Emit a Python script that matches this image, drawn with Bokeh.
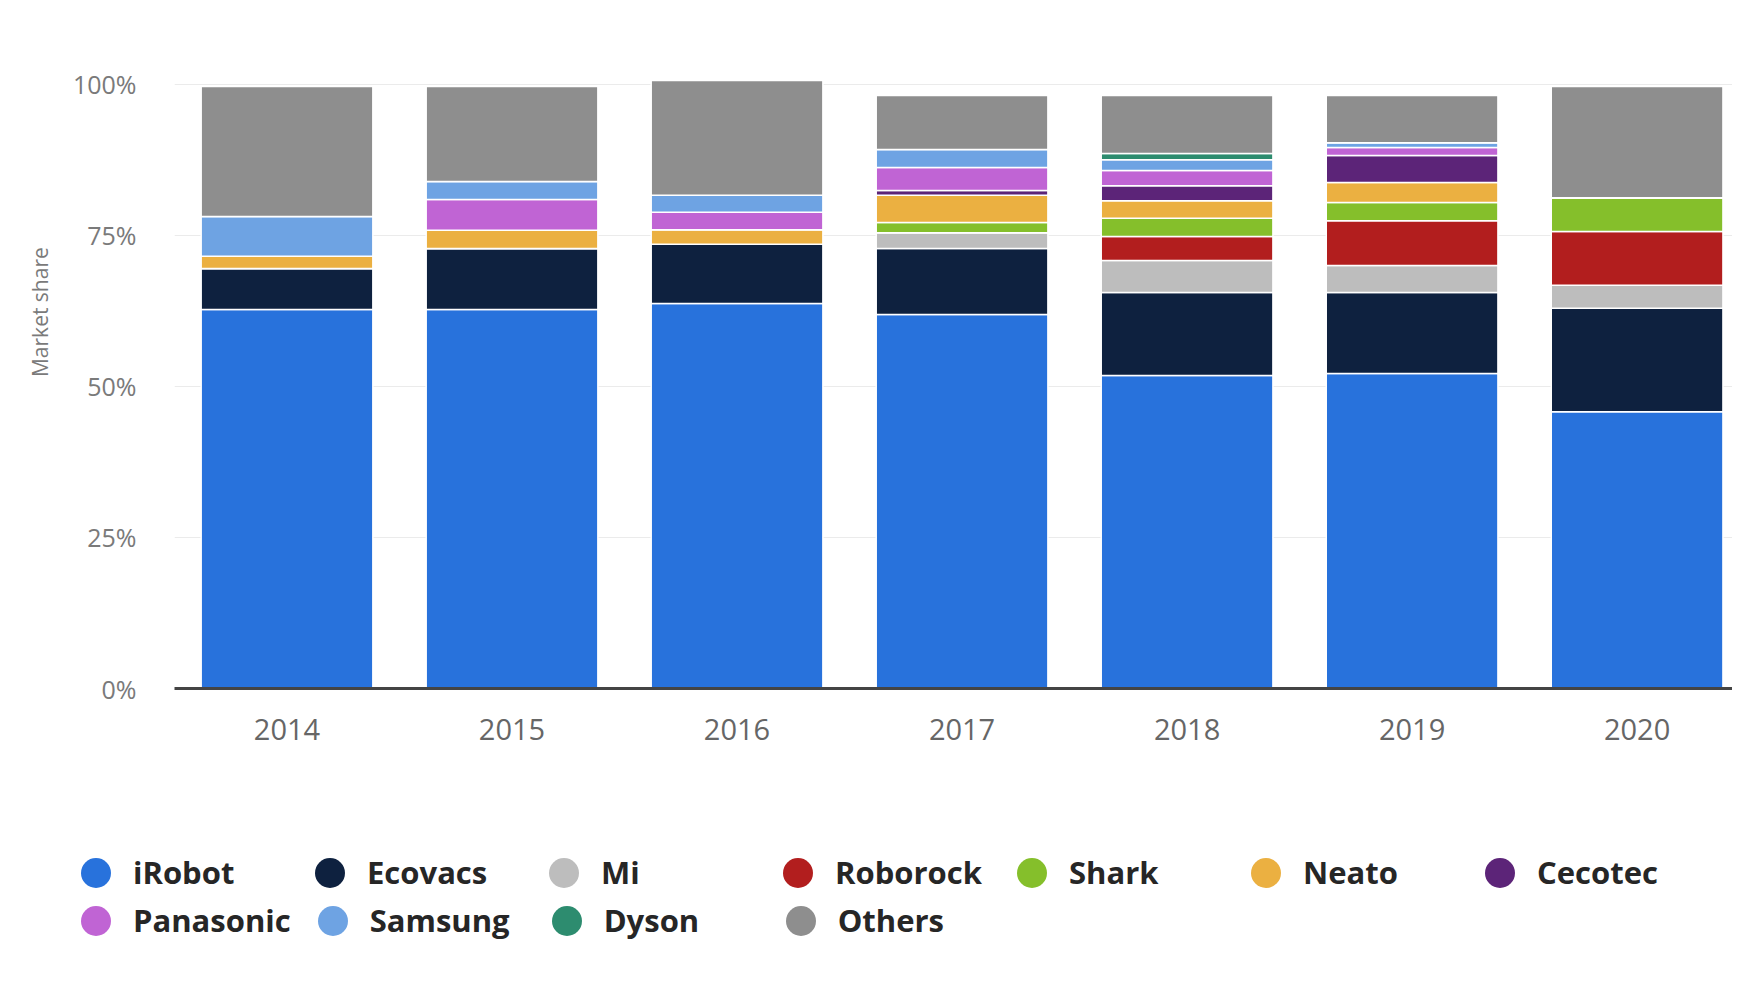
from bokeh.plotting import figure
from bokeh.models import ColumnDataSource, Range1d, FixedTicker, PrintfTickFormatter, Legend, LegendItem
from bokeh.embed import file_html
from bokeh.resources import INLINE

years = [2014, 2015, 2016, 2017, 2018, 2019, 2020]
year_labels = ["2014", "2015", "2016", "2017", "2018", "2019", "2020"]

brands = ["iRobot", "Ecovacs", "Mi", "Roborock", "Shark", "Neato", "Cecotec",
          "Panasonic", "Samsung", "Dyson", "Others"]
colors = ["#2872DC", "#0E213F", "#BDBDBD", "#B21E1E", "#85BF2B", "#EBB041", "#5C2478",
          "#C064D4", "#6EA3E3", "#2D8C6F", "#8E8E8E"]

irobot = [62.7, 62.7, 63.7, 61.9, 51.8, 52.1, 45.8]
ecovacs = [6.8, 10.1, 9.8, 10.9, 13.7, 13.4, 17.1]
mi = [0, 0, 0, 2.6, 5.3, 4.5, 3.8]
roborock = [0, 0, 0, 0, 4.0, 7.4, 8.9]
shark = [0, 0, 0, 1.7, 3.0, 3.0, 5.6]
neato = [2.0, 3.0, 2.4, 4.5, 2.9, 3.3, 0]
cecotec = [0, 0, 0, 0.8, 2.5, 4.5, 0]
panasonic = [0, 5.1, 2.9, 3.8, 2.5, 1.3, 0]
samsung = [6.6, 3.0, 2.8, 3.0, 1.8, 0.8, 0]
dyson = [0, 0, 0, 0, 1.0, 0, 0]
others = [21.5, 15.7, 19.0, 8.9, 9.6, 7.8, 18.4]

y_ticks = [0, 25, 50, 75, 100]
y_title = "Market share"

data = {"year": years, "iRobot": irobot, "Ecovacs": ecovacs, "Mi": mi, "Roborock": roborock,
        "Shark": shark, "Neato": neato, "Cecotec": cecotec, "Panasonic": panasonic,
        "Samsung": samsung, "Dyson": dyson, "Others": others}
source = ColumnDataSource(data)

FONT = "Open Sans"

chart = figure(width=1732, height=768, output_backend="svg", toolbar_location=None,
               x_range=Range1d(2013.5, 2020.424), y_range=Range1d(0, 109.2),
               min_border_left=174, min_border_right=0, min_border_top=28, min_border_bottom=80)
chart.outline_line_color = None
chart.background_fill_color = "white"
chart.border_fill_color = "white"

chart.vbar_stack(brands, x="year", width=0.763, color=colors, source=source,
                 line_color="white", line_width=1.5)

# x axis
chart.xaxis.ticker = FixedTicker(ticks=years)
chart.xaxis.major_label_overrides = {y: l for y, l in zip(years, year_labels)}
chart.xaxis.axis_line_color = "#444444"
chart.xaxis.axis_line_width = 3
chart.xaxis.major_tick_line_color = None
chart.xaxis.minor_tick_line_color = None
chart.xaxis.major_label_text_font = FONT
chart.xaxis.major_label_text_font_size = "29px"
chart.xaxis.major_label_text_color = "#666666"
chart.xaxis.major_label_standoff = 24
chart.xgrid.grid_line_color = None

# y axis
chart.yaxis.ticker = FixedTicker(ticks=y_ticks)
chart.yaxis.formatter = PrintfTickFormatter(format="%d%%")
chart.yaxis.axis_line_color = None
chart.yaxis.major_tick_line_color = None
chart.yaxis.minor_tick_line_color = None
chart.yaxis.major_tick_out = 0
chart.yaxis.minor_tick_out = 0
chart.yaxis.major_label_text_font = FONT
chart.yaxis.major_label_text_font_size = "25px"
chart.yaxis.major_label_text_color = "#7a7a7a"
chart.yaxis.major_label_standoff = 38
# leading non-breaking spaces lift the centred title a little, as in the original
chart.yaxis.axis_label = "\u00a0" * 17 + y_title
chart.yaxis.axis_label_text_font = FONT
chart.yaxis.axis_label_text_font_size = "21px"
chart.yaxis.axis_label_text_font_style = "normal"
chart.yaxis.axis_label_text_color = "#7a7a7a"
chart.yaxis.axis_label_standoff = 16
chart.ygrid.grid_line_color = "#ebebeb"
chart.ygrid.grid_line_width = 1

# legend figure below the chart (separate root, so its frame starts at the left edge)
lf = figure(width=1732, height=208, output_backend="svg", toolbar_location=None,
            x_range=Range1d(0, 1), y_range=Range1d(0, 1),
            min_border_left=0, min_border_right=0, min_border_top=0, min_border_bottom=0)
lf.axis.visible = False
lf.grid.visible = False
lf.outline_line_color = None
lf.background_fill_color = "white"
lf.border_fill_color = "white"

markers = {}
for b, c in zip(brands, colors):
    # single off-range point so the legend glyph has data to style
    markers[b] = lf.scatter(x=[-5], y=[-5], marker="circle", size=30, fill_color=c, line_color=None)

row1 = brands[:7]
row2 = brands[7:]

def make_legend(names, loc):
    return Legend(items=[LegendItem(label=n, renderers=[markers[n]]) for n in names],
                  orientation="horizontal", location=loc,
                  glyph_width=75, glyph_height=75, label_standoff=0, label_width=155,
                  spacing=4, padding=0, margin=0,
                  label_text_font=FONT, label_text_font_size="31px",
                  label_text_font_style="bold", label_text_color="#262626",
                  border_line_alpha=0, background_fill_alpha=0)

lf.add_layout(make_legend(row1, (58, 66.5)))
lf.add_layout(make_legend(row2, (58, 18.5)))

p = [chart, lf]

open("out.html", "w").write(file_html(p, INLINE))
